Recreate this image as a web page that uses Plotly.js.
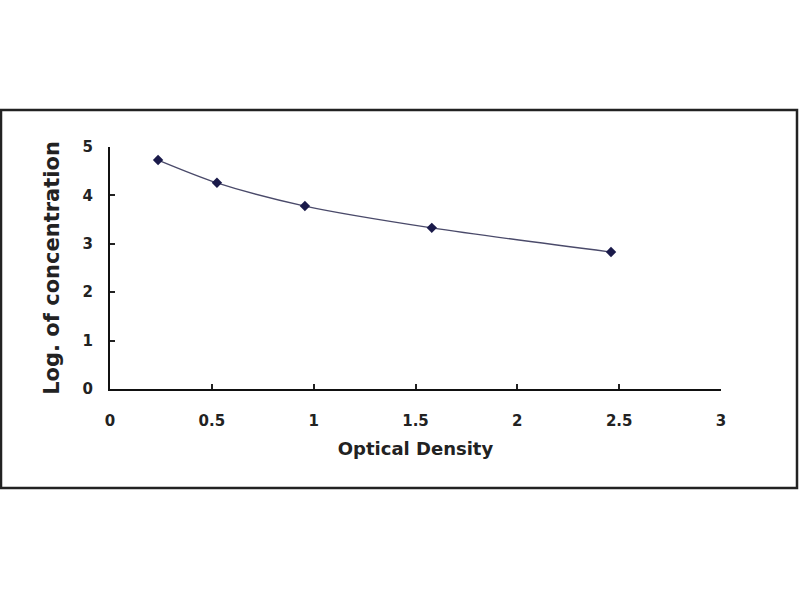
<!DOCTYPE html>
<html>
<head>
<meta charset="utf-8">
<script src="https://cdn.plot.ly/plotly-3.0.1.min.js"></script>
<style>
  html, body { margin: 0; padding: 0; background: #fff; }
  #myDiv { width: 800px; height: 600px; }
</style>
</head>
<body>
<div id="myDiv"></div>
<script>
// standard curve points
let opticalDensity = [0.236, 0.525, 0.957, 1.58, 2.46]
let logConc = [4.73, 4.26, 3.78, 3.33, 2.83]

let xTicks = [0, 0.5, 1, 1.5, 2, 2.5, 3]
let yTicks = [0, 1, 2, 3, 4, 5]

var fitLine = {
  x: opticalDensity,
  y: logConc,
  mode: 'lines',
  type: 'scatter',
  line: { color: '#4a4a6a', width: 1.3, shape: 'spline', smoothing: 0.8 },
  hoverinfo: 'skip'
};

var points = {
  x: opticalDensity,
  y: logConc,
  mode: 'markers',
  type: 'scatter',
  marker: { symbol: 'diamond', size: 8, color: '#1a1a4a' }
};

var fam = 'DejaVu Sans, Verdana, sans-serif';
var tickFont = { family: fam, size: 15, color: '#222', weight: 'bold' };

var layout = {
  width: 800,
  height: 600,
  showlegend: false,
  paper_bgcolor: '#fff',
  plot_bgcolor: '#fff',
  margin: { l: 110, r: 79, t: 147, b: 211 },
  xaxis: {
    range: [0, 3],
    tickvals: xTicks,
    ticktext: xTicks.map(String),
    ticks: 'inside',
    ticklen: 5,
    tickwidth: 1.5,
    tickcolor: '#222',
    showline: true,
    linecolor: '#111',
    linewidth: 2,
    showgrid: false,
    zeroline: false,
    ticklabelstandoff: 17,
    tickfont: tickFont,
    title: { text: 'Optical Density', font: { family: fam, size: 18, color: '#222', weight: 'bold' }, standoff: 13 }
  },
  yaxis: {
    range: [0, 5],
    tickvals: yTicks,
    ticks: 'inside',
    ticklen: 5,
    tickwidth: 1.5,
    tickcolor: '#222',
    showline: true,
    linecolor: '#111',
    linewidth: 2,
    showgrid: false,
    zeroline: false,
    ticklabelstandoff: 12,
    tickfont: tickFont,
    title: { text: 'Log. of concentration', font: { family: fam, size: 21, color: '#222', weight: 'bold' }, standoff: 17 }
  },
  shapes: [{
    type: 'rect', xref: 'paper', yref: 'paper',
    x0: -109 / 611, x1: 687 / 611,
    y0: -99 / 242, y1: 279 / 242,
    line: { color: '#222', width: 2.5 }
  }]
};

Plotly.newPlot('myDiv', [fitLine, points], layout, { displayModeBar: false });
</script>
</body>
</html>
